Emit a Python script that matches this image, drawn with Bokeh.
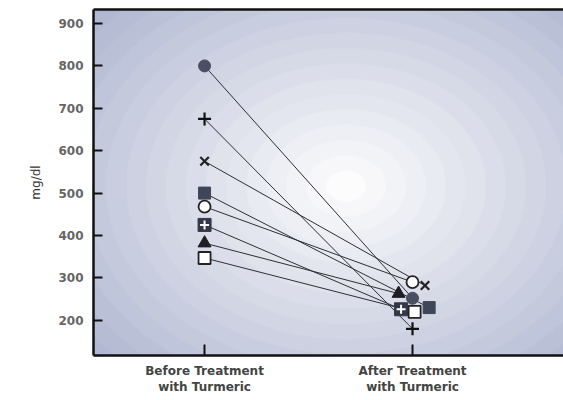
import numpy as np
from bokeh.plotting import figure
from bokeh.models import FixedTicker, LinearAxis, Range1d
from bokeh.embed import file_html
from bokeh.resources import INLINE

# ---- data ----
series = ["s1", "s2", "s3", "s4", "s5", "s6", "s7", "s8"]
markers = ["circle", "cross", "x", "square", "circle", "square", "triangle", "square"]
before = [800, 675, 575, 500, 468, 425, 382, 347]
after = [252, 180, 282, 230, 290, 226, 263, 220]
after_dx = [0.0, 0.0, 0.06, 0.08, 0.0, -0.055, -0.067, 0.01]
x_labels = {1: "Before Treatment\nwith Turmeric", 2: "After Treatment\nwith Turmeric"}
y_ticks = [200, 300, 400, 500, 600, 700, 800, 900]

LINE = "#2e2e33"
FONT = "DejaVu Sans"

x0, x1 = 0.466, 2.726
y0, y1 = 117, 933

p = figure(width=563, height=398, output_backend="svg", toolbar_location=None,
           x_range=Range1d(x0, x1), y_range=Range1d(y0, y1),
           min_border_left=93, min_border_right=0, min_border_top=9, min_border_bottom=43)
p.background_fill_color = "white"
p.border_fill_color = "white"
p.outline_line_color = None
p.grid.visible = False

# background radial gradient (decoration)
W, H = 470, 346
xs = np.arange(W)[None, :]
ys = np.arange(H)[:, None]
cx, cy = 252, 176
r = np.sqrt(((xs - cx) / 320.0) ** 2 + ((ys - cy) / 245.0) ** 2)
r = np.clip(r, 0, 1.15)
r = np.floor(r * 16) / 16
c0 = np.array([252, 252, 253])
c1 = np.array([170, 178, 206])
t = np.clip(r / 1.1, 0, 1)[..., None]
rgb = c0 * (1 - t) + c1 * t
img = np.zeros((H, W), dtype=np.uint32)
view = img.view(dtype=np.uint8).reshape((H, W, 4))
view[..., 0] = rgb[..., 0].astype(np.uint8)
view[..., 1] = rgb[..., 1].astype(np.uint8)
view[..., 2] = rgb[..., 2].astype(np.uint8)
view[..., 3] = 255
img = img[::-1]
p.image_rgba(image=[img], x=x0, y=y0, dw=x1 - x0, dh=y1 - y0)

# lines
ax = [2 + d for d in after_dx]
p.segment(x0=[1] * len(before), y0=before, x1=ax, y1=after, line_color=LINE, line_width=1)

# markers
for i in range(len(series)):
    xx = [1, ax[i]]
    yy = [before[i], after[i]]
    if i == 0:
        p.scatter(xx, yy, marker="circle", size=12, fill_color="#4a4f63", line_color="#4a4f63")
    elif i == 1:
        p.scatter(xx, yy, marker="cross", size=13, line_color="#111", line_width=2.2)
    elif i == 2:
        p.scatter(xx, yy, marker="x", size=12, line_color="#222", line_width=2.2)
    elif i == 3:
        p.scatter(xx, yy, marker="square", size=12, fill_color="#404659", line_color="#404659")
    elif i == 4:
        p.scatter(xx, yy, marker="circle", size=12, fill_color="white", line_color="#222", line_width=1.8)
    elif i == 5:
        p.scatter(xx, yy, marker="square", size=13, fill_color="#333848", line_color="#333848")
        p.scatter(xx, yy, marker="cross", size=9, line_color="white", line_width=2)
    elif i == 6:
        p.scatter(xx, yy, marker="triangle", size=13, fill_color="#1e1e24", line_color="#1e1e24")
    else:
        p.scatter(xx, yy, marker="square", size=12, fill_color="white", line_color="#222", line_width=1.8)

# axes styling
yax = p.yaxis[0]
yax.ticker = FixedTicker(ticks=y_ticks)
yax.axis_line_color = "#111"
yax.axis_line_width = 2.5
yax.major_tick_in = 9
yax.major_tick_out = 0
yax.major_tick_line_width = 2
yax.major_tick_line_color = "#111"
yax.minor_tick_line_color = None
yax.major_label_text_font = FONT
yax.major_label_text_font_size = "12px"
yax.major_label_text_font_style = "bold"
yax.major_label_text_color = "#666"
yax.major_label_standoff = 10
yax.axis_label = "mg/dl"
yax.axis_label_text_font = FONT
yax.axis_label_text_font_size = "12px"
yax.axis_label_text_font_style = "normal"
yax.axis_label_text_color = "#333"
yax.axis_label_standoff = 12

xax = p.xaxis[0]
xax.ticker = FixedTicker(ticks=[1, 2])
xax.major_label_overrides = x_labels
xax.axis_line_color = "#111"
xax.axis_line_width = 2.5
xax.major_tick_in = 11
xax.major_tick_out = 0
xax.major_tick_line_width = 2
xax.major_tick_line_color = "#111"
xax.minor_tick_line_color = None
xax.major_label_text_font = FONT
xax.major_label_text_font_size = "12px"
xax.major_label_text_font_style = "bold"
xax.major_label_text_color = "#444"
xax.major_label_standoff = 8

top = LinearAxis(ticker=FixedTicker(ticks=[]), major_tick_line_color=None,
                 minor_tick_line_color=None, axis_line_color="#111", axis_line_width=2.5)
p.add_layout(top, "above")

open("out.html", "w").write(file_html(p, INLINE))
